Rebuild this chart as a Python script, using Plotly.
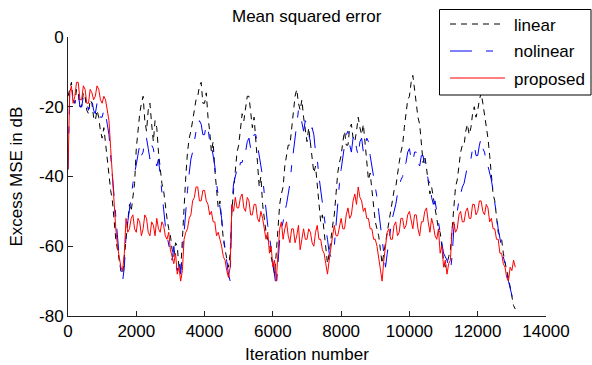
import plotly.graph_objects as go

# iteration index (every 50 iterations)
iterations = list(range(0, 13150, 50))

linear = [
    -17, -15, -13, -18, -19, -15, -16, -20, -20, -16, -17, -21, -22, -18, -19, -23, -24, -21, -23, -27,
    -29, -26, -31, -36, -40, -44, -47, -53, -58, -61, -64, -67, -68, -63, -60, -55, -48, -50, -46, -42,
    -32, -26, -22, -19, -17, -24, -27, -21, -19, -25, -30, -24, -26, -33, -38, -42, -44, -49, -52, -55,
    -57, -61, -63, -59, -60, -66, -67, -58, -47, -40, -33, -29, -27, -24, -21, -18, -17, -14, -13, -19,
    -19, -16, -23, -27, -33, -30, -38, -43, -49, -47, -53, -58, -61, -64, -66, -62, -50, -44, -37, -33,
    -31, -26, -22, -24, -20, -17, -17, -21, -26, -23, -31, -36, -43, -40, -48, -53, -56, -58, -59, -63,
    -66, -68, -62, -55, -48, -45, -43, -37, -34, -31, -31, -26, -21, -17, -15, -19, -21, -18, -23, -27,
    -30, -26, -31, -36, -39, -37, -43, -48, -53, -51, -56, -61, -65, -62, -57, -54, -51, -45, -39, -36,
    -34, -30, -27, -31, -31, -26, -25, -29, -30, -27, -23, -26, -28, -25, -31, -36, -41, -39, -44, -49,
    -53, -55, -57, -61, -65, -62, -59, -55, -53, -49, -46, -44, -43, -39, -36, -33, -31, -26, -21, -18,
    -17, -13, -11, -15, -19, -23, -25, -30, -36, -34, -38, -42, -45, -43, -46, -50, -53, -55, -56, -60,
    -64, -66, -65, -63, -61, -55, -48, -43, -41, -37, -33, -31, -31, -27, -25, -28, -26, -22, -20, -23,
    -21, -18, -16, -19, -22, -26, -29, -34, -41, -45, -47, -52, -56, -57, -58, -62, -65, -67, -69, -72,
    -75, -77, -78,
]

nolinear = [
    -38, -16, -15, -18, -19, -16, -16, -20, -20, -17, -17, -19, -21, -18, -18, -21, -22, -19, -20, -23,
    -23, -21, -22, -25, -28, -34, -40, -46, -52, -58, -63, -67, -70, -66, -57, -53, -50, -46, -42, -39,
    -36, -33, -31, -34, -33, -29, -29, -32, -35, -31, -32, -35, -37, -35, -40, -45, -50, -54, -57, -60,
    -62, -64, -60, -65, -67, -64, -68, -62, -55, -50, -44, -39, -35, -33, -30, -27, -27, -24, -25, -28,
    -28, -25, -26, -30, -31, -34, -37, -42, -45, -49, -52, -57, -61, -64, -68, -70, -48, -42, -40, -38,
    -39, -36, -36, -33, -33, -30, -29, -32, -31, -28, -28, -31, -34, -38, -40, -45, -50, -54, -57, -61,
    -64, -69, -72, -65, -58, -55, -53, -50, -48, -45, -42, -37, -33, -28, -24, -21, -22, -25, -27, -24,
    -25, -28, -30, -26, -28, -33, -35, -40, -44, -48, -52, -55, -58, -62, -63, -60, -60, -53, -48, -42,
    -38, -34, -31, -28, -27, -31, -33, -29, -28, -32, -34, -30, -29, -33, -33, -29, -30, -34, -37, -40,
    -42, -46, -50, -55, -58, -62, -66, -62, -58, -55, -52, -50, -48, -45, -43, -41, -40, -37, -36, -33,
    -32, -35, -36, -33, -33, -36, -37, -34, -34, -37, -38, -41, -42, -46, -48, -47, -50, -53, -56, -59,
    -62, -63, -64, -66, -67, -63, -55, -52, -50, -47, -45, -43, -42, -39, -37, -35, -35, -32, -31, -34,
    -34, -31, -29, -32, -33, -36, -37, -39, -41, -44, -47, -51, -55, -58, -61, -63, -65, -68, -70, -72,
    -74, -76, -77,
]

proposed = [
    -38, -16, -14, -19, -17, -13, -13, -18, -18, -14, -15, -19, -19, -15, -16, -18, -17, -14, -15, -18,
    -19, -17, -18, -21, -24, -32, -40, -48, -55, -60, -63, -66, -67, -62, -52, -56, -55, -52, -51, -55,
    -56, -52, -53, -57, -55, -51, -52, -56, -57, -53, -54, -57, -52, -55, -56, -53, -54, -57, -58, -56,
    -61, -63, -65, -62, -68, -66, -70, -67, -58, -56, -55, -52, -51, -47, -46, -43, -43, -47, -47, -44,
    -44, -47, -48, -51, -50, -53, -53, -57, -56, -58, -60, -63, -64, -67, -69, -66, -48, -50, -46, -49,
    -49, -46, -45, -49, -50, -46, -47, -51, -51, -48, -48, -52, -53, -50, -52, -55, -58, -56, -62, -60,
    -66, -64, -70, -62, -55, -53, -58, -55, -53, -57, -59, -55, -55, -59, -57, -54, -61, -58, -55, -58,
    -58, -55, -56, -59, -60, -56, -54, -58, -58, -61, -62, -65, -68, -64, -60, -57, -54, -57, -57, -54,
    -52, -55, -55, -51, -49, -52, -51, -47, -45, -48, -43, -46, -47, -50, -49, -52, -52, -55, -55, -58,
    -58, -60, -63, -66, -70, -64, -60, -56, -55, -58, -58, -54, -53, -57, -56, -52, -52, -55, -54, -51,
    -50, -53, -55, -51, -51, -55, -57, -53, -53, -50, -49, -53, -56, -52, -54, -57, -58, -55, -62, -60,
    -66, -64, -68, -65, -64, -55, -53, -56, -55, -51, -50, -53, -53, -50, -49, -52, -52, -48, -48, -51,
    -50, -47, -47, -50, -51, -48, -49, -53, -52, -55, -55, -58, -58, -62, -62, -65, -66, -69, -70, -66,
    -67, -64, -66,
]

series_names = ["linear", "nolinear", "proposed"]
x_ticks = [0, 2000, 4000, 6000, 8000, 10000, 12000, 14000]
y_ticks = [0, -20, -40, -60, -80]

FONT = "Arial, Liberation Sans, sans-serif"
dash_black = "6px,5px"
dash_blue = "22px,14px,7px,12px"

fig = go.Figure()
fig.add_trace(go.Scatter(x=iterations, y=linear, mode="lines", name=series_names[0],
                         line=dict(color="black", width=1, dash=dash_black)))
fig.add_trace(go.Scatter(x=iterations, y=nolinear, mode="lines", name=series_names[1],
                         line=dict(color="blue", width=1, dash=dash_blue)))
fig.add_trace(go.Scatter(x=iterations, y=proposed, mode="lines", name=series_names[2],
                         line=dict(color="red", width=1)))

L, R, T, B = 68, 46, 37, 49
W, H = 592, 365
PW, PH = W - L - R, H - T - B


def px(xp):
    return (xp - L) / PW


def py(yp):
    return (H - B - yp) / PH


shapes = [
    dict(type="rect", xref="paper", yref="paper", x0=px(439.5), x1=px(591), y0=py(95), y1=py(9.5),
         line=dict(color="black", width=1), fillcolor="white", layer="above"),
]
colors = ["black", "blue", "red"]
dashes = [dash_black, dash_blue, "solid"]
rows_line = [24, 51, 78]
rows_text = [25, 52, 79]
annotations = []
for name, c, d, yl, yt in zip(series_names, colors, dashes, rows_line, rows_text):
    shapes.append(dict(type="line", xref="paper", yref="paper", x0=px(450), x1=px(505),
                       y0=py(yl), y1=py(yl), line=dict(color=c, width=1, dash=d), layer="above"))
    annotations.append(dict(text=name, xref="paper", yref="paper", x=px(512), y=py(yt),
                            xanchor="left", yanchor="middle", showarrow=False,
                            font=dict(family=FONT, size=17, color="black")))

annotations += [
    dict(text="Mean squared error", xref="paper", yref="paper", x=0.5, y=py(16),
         xanchor="center", yanchor="middle", showarrow=False,
         font=dict(family=FONT, size=17, color="black")),
    dict(text="Iteration number", xref="paper", yref="paper", x=0.5, y=py(354),
         xanchor="center", yanchor="middle", showarrow=False,
         font=dict(family=FONT, size=17, color="black")),
    dict(text="Excess MSE in dB", xref="paper", yref="paper", x=px(16), y=0.5,
         xanchor="center", yanchor="middle", showarrow=False, textangle=-90,
         font=dict(family=FONT, size=17, color="black")),
]

fig.update_layout(
    width=W, height=H,
    margin=dict(l=L, r=R, t=T, b=B, pad=0),
    paper_bgcolor="white", plot_bgcolor="white",
    showlegend=False,
    font=dict(family=FONT, size=17, color="black"),
    shapes=shapes,
    annotations=annotations,
)
fig.update_xaxes(range=[0, 14000], tickvals=x_ticks, ticktext=[str(v) for v in x_ticks],
                 showgrid=False, zeroline=False, showline=True, linecolor="#222", linewidth=1,
                 ticks="inside", ticklen=5, tickcolor="#222", mirror=False,
                 tickfont=dict(family=FONT, size=17, color="black"))
fig.update_yaxes(range=[-80, 0], tickvals=y_ticks, ticktext=[str(v) for v in y_ticks],
                 showgrid=False, zeroline=False, showline=True, linecolor="#222", linewidth=1,
                 ticks="inside", ticklen=5, tickcolor="#222", mirror=False,
                 tickfont=dict(family=FONT, size=17, color="black"))

fig.write_html("out.html")
